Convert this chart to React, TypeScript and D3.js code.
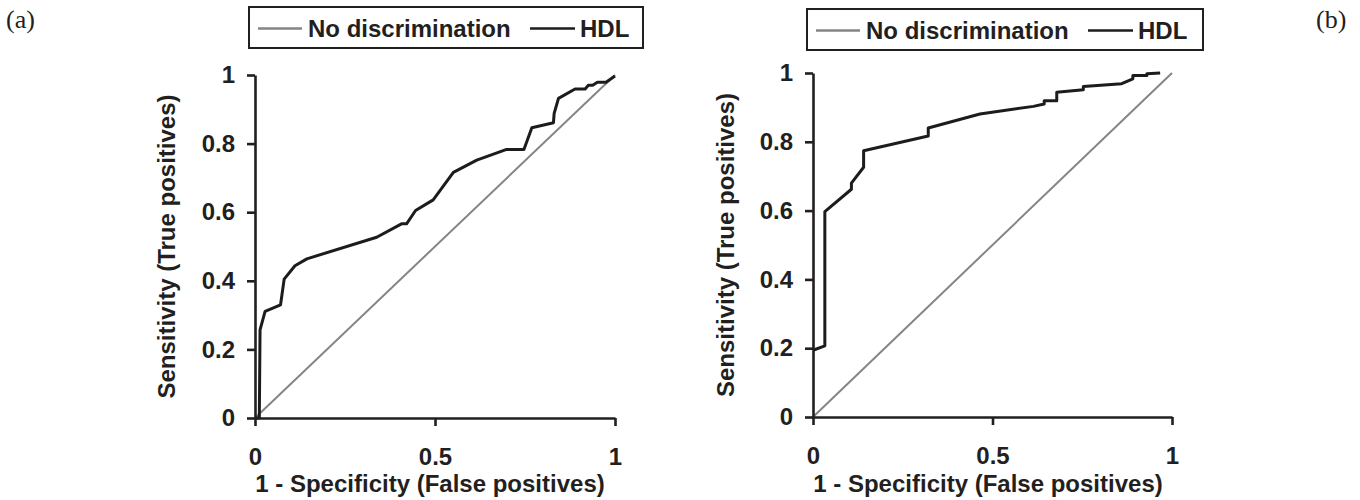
import React, { useRef, useEffect } from 'react';
import * as d3 from 'd3';

// ROC curves, panel (a) and panel (b)
const hdlA_fpr = [0, 0.012, 0.014, 0.028, 0.071, 0.081, 0.111, 0.144, 0.338, 0.407, 0.421, 0.446, 0.495, 0.551, 0.616, 0.699, 0.747, 0.769, 0.829, 0.831, 0.843, 0.889, 0.917, 0.926, 0.938, 0.951, 0.975, 1];
const hdlA_tpr = [0, 0, 0.257, 0.311, 0.33, 0.405, 0.444, 0.464, 0.527, 0.566, 0.566, 0.605, 0.636, 0.716, 0.752, 0.783, 0.783, 0.846, 0.861, 0.888, 0.932, 0.959, 0.959, 0.97, 0.97, 0.979, 0.979, 0.997];

const hdlB_fpr = [0, 0.033, 0.033, 0.107, 0.107, 0.141, 0.141, 0.321, 0.321, 0.465, 0.614, 0.644, 0.644, 0.679, 0.679, 0.753, 0.753, 0.86, 0.891, 0.891, 0.93, 0.93, 0.967];
const hdlB_tpr = [0.194, 0.207, 0.597, 0.662, 0.68, 0.726, 0.774, 0.817, 0.84, 0.881, 0.903, 0.91, 0.919, 0.919, 0.944, 0.951, 0.961, 0.969, 0.983, 0.993, 0.993, 0.998, 1];

const diagonal = [0, 1];
const ticksX = [0, 0.5, 1];
const ticksY = [0, 0.2, 0.4, 0.6, 0.8, 1];
const panelLabels = ['(a)', '(b)'];
const legendLabels = ['No discrimination', 'HDL'];

const FONT = '"Liberation Sans", Arial, sans-serif';

function App() {
	const svgRef = useRef();

	useEffect(() => {
		const svg = d3.select(svgRef.current);
		svg.selectAll('*').remove();

		const panels = [
			{ fpr: hdlA_fpr, tpr: hdlA_tpr, x: [255, 615], y: [418, 75], titleX: 175, xTitle: 430, legend: [249, 7, 394, 41], lab: [6, 28] },
			{ fpr: hdlB_fpr, tpr: hdlB_tpr, x: [813, 1172], y: [417, 73], titleX: 734, xTitle: 988, legend: [807, 9, 396, 41], lab: [1316, 28] },
		];

		panels.forEach((p, pi) => {
			const xScale = d3.scaleLinear().domain([0, 1]).range(p.x);
			const yScale = d3.scaleLinear().domain([0, 1]).range(p.y);
			const g = svg.append('g');

			// diagonal
			const lineGen = d3.line()
				.x((d) => xScale(d[0]))
				.y((d) => yScale(d[1]));
			g.append('path')
				.attr('d', lineGen(diagonal.map((d) => [d, d])))
				.attr('fill', 'none')
				.attr('stroke', '#858585')
				.attr('stroke-width', 2);

			// HDL curve
			g.append('path')
				.attr('d', lineGen(p.fpr.map((f, i) => [f, p.tpr[i]])))
				.attr('fill', 'none')
				.attr('stroke', '#1c1c1c')
				.attr('stroke-width', 3)
				.attr('stroke-linejoin', 'round');

			// axes
			const xAxis = d3.axisBottom(xScale).tickValues(ticksX).tickFormat(d3.format('')).tickSize(8).tickSizeOuter(0).tickPadding(22);
			const yAxis = d3.axisLeft(yScale).tickValues(ticksY).tickFormat(d3.format('')).tickSize(8).tickSizeOuter(0).tickPadding(12);

			const gx = g.append('g').attr('transform', `translate(0,${p.y[0]})`).call(xAxis);
			const gy = g.append('g').attr('transform', `translate(${p.x[0]},0)`).call(yAxis);
			[gx, gy].forEach((ax) => {
				ax.select('.domain').attr('stroke', '#231f20').attr('stroke-width', 2.6);
				ax.selectAll('.tick line').attr('stroke', '#231f20').attr('stroke-width', 2.6);
				ax.selectAll('.tick text')
					.attr('fill', '#231f20')
					.style('font-family', FONT)
					.style('font-weight', 'bold')
					.style('font-size', '24px');
			});

			// axis titles
			g.append('text')
				.attr('x', p.xTitle)
				.attr('y', 492)
				.attr('text-anchor', 'middle')
				.attr('fill', '#231f20')
				.style('font-family', FONT)
				.style('font-weight', 'bold')
				.style('font-size', '24px')
				.text('1 - Specificity (False positives)');
			g.append('text')
				.attr('transform', `translate(${p.titleX},${(p.y[0] + p.y[1]) / 2}) rotate(-90)`)
				.attr('text-anchor', 'middle')
				.attr('fill', '#231f20')
				.style('font-family', FONT)
				.style('font-weight', 'bold')
				.style('font-size', '24px')
				.text('Sensitivity (True positives)');

			// legend
			const [lx, ly, lw, lh] = p.legend;
			const lg = g.append('g').attr('transform', `translate(${lx},${ly})`);
			lg.append('rect')
				.attr('width', lw)
				.attr('height', lh)
				.attr('fill', 'white')
				.attr('stroke', '#231f20')
				.attr('stroke-width', 2);
			const ly0 = lh / 2 + 1;
			lg.append('line').attr('x1', 9).attr('x2', 53).attr('y1', ly0).attr('y2', ly0)
				.attr('stroke', '#858585').attr('stroke-width', 2.4);
			lg.append('text').attr('x', 59).attr('y', ly0 + 8.5).text(legendLabels[0]);
			lg.append('line').attr('x1', 281).attr('x2', 326).attr('y1', ly0).attr('y2', ly0)
				.attr('stroke', '#1c1c1c').attr('stroke-width', 2.6);
			lg.append('text').attr('x', 331).attr('y', ly0 + 8.5).text(legendLabels[1]);
			lg.selectAll('text')
				.attr('fill', '#231f20')
				.style('font-family', FONT)
				.style('font-weight', 'bold')
				.style('font-size', '24px');

			// panel label
			svg.append('text')
				.attr('x', p.lab[0])
				.attr('y', p.lab[1])
				.attr('fill', '#231f20')
				.style('font-family', '"Liberation Serif", "Times New Roman", serif')
				.style('font-size', '26px')
				.text(panelLabels[pi]);
		});
	}, []);

	return (
		<svg
			ref={svgRef}
			width={1360}
			height={500}
			style={{ position: 'absolute', left: 0, top: 0, background: 'white' }}
		/>
	);
}

export default App;
